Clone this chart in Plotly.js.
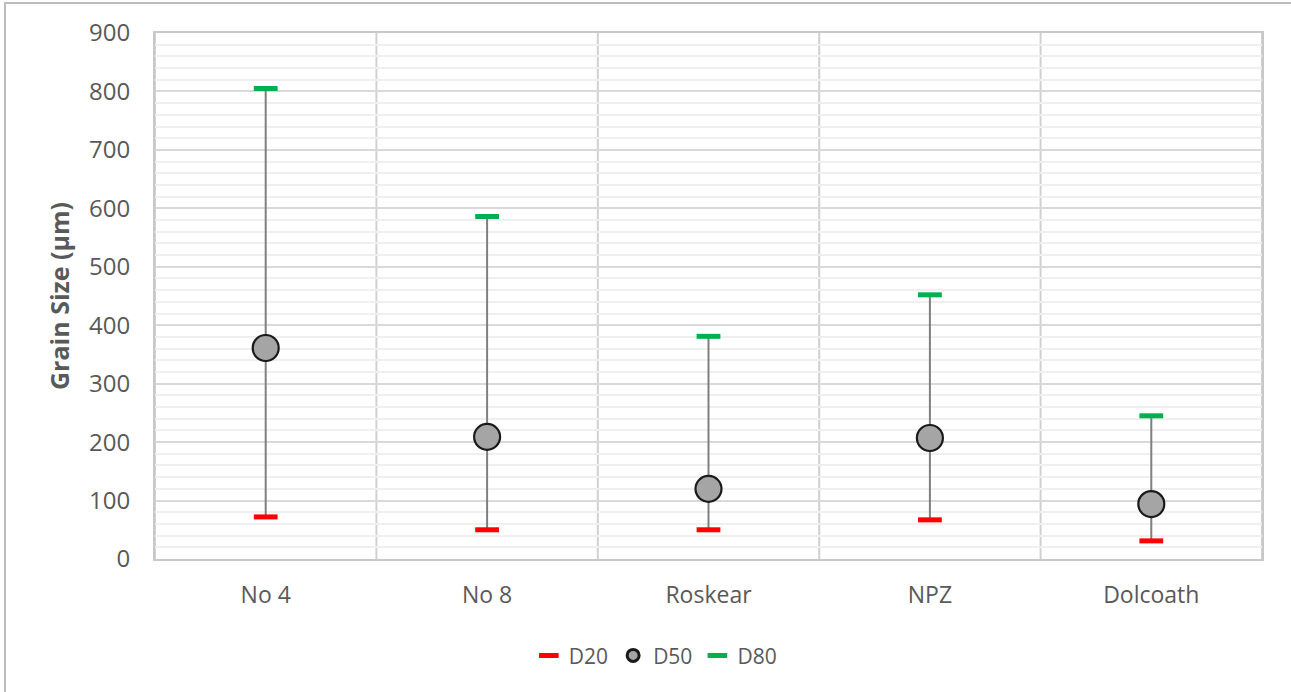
<!DOCTYPE html>
<html>
<head>
<meta charset="utf-8">
<script src="https://cdn.plot.ly/plotly-3.0.1.min.js"></script>
<style>
html,body{margin:0;padding:0;background:#fff;}
#wrap{position:relative;width:1291px;height:692px;}
#chart{position:absolute;left:0;top:0;width:1291px;height:692px;}
#frame{position:absolute;left:4px;top:2px;width:1300px;height:700px;border-left:2px solid #bdbdbd;border-top:2px solid #bdbdbd;pointer-events:none;}
</style>
</head>
<body>
<div id="wrap"><div id="chart"></div><div id="frame"></div></div>
<script>
const categories = ["No 4", "No 8", "Roskear", "NPZ", "Dolcoath"];
const d20 = [72, 50, 50, 67, 31];
const d50 = [361, 209, 120, 207, 94];
const d80 = [805, 586, 381, 452, 245];
const yTickVals = [0, 100, 200, 300, 400, 500, 600, 700, 800, 900];

const idx = categories.map((c, i) => i);
const lineX = [], lineY = [];
idx.forEach(i => { lineX.push(i, i, null); lineY.push(d20[i], d80[i], null); });

const font = "Open Sans, Liberation Sans, sans-serif";
const red = "#ff0000", green = "#00b050";
const traces = [
  {x: lineX, y: lineY, mode: "lines", line: {color: "#7f7f7f", width: 2}, showlegend: false, hoverinfo: "skip"},
  {x: idx, y: d20, name: "D20", mode: "markers", showlegend: false,
   marker: {symbol: "line-ew", size: 17, line: {color: red, width: 5}, color: red}},
  {x: idx, y: d50, name: "D50", mode: "markers", showlegend: false,
   marker: {symbol: "circle", size: 26, color: "#a5a5a5", line: {color: "#1a1a1a", width: 2.2}}},
  {x: idx, y: d80, name: "D80", mode: "markers", showlegend: false,
   marker: {symbol: "line-ew", size: 17, line: {color: green, width: 5}, color: green}},
  // legend entries (no data points)
  {x: [null], y: [null], name: "D20", mode: "markers",
   marker: {symbol: "line-ew", size: 14, line: {color: red, width: 5}, color: red}},
  {x: [null], y: [null], name: "D50", mode: "markers",
   marker: {symbol: "circle", size: 12, color: "#a5a5a5", line: {color: "#1a1a1a", width: 3}}},
  {x: [null], y: [null], name: "D80", mode: "markers",
   marker: {symbol: "line-ew", size: 14, line: {color: green, width: 5}, color: green}}
];

const shapes = [];
for (let k = 0; k <= categories.length; k++) {
  shapes.push({type: "line", xref: "x", yref: "paper", x0: k - 0.5, x1: k - 0.5, y0: 0, y1: 1,
    line: {color: "#d0d0d0", width: 2}, layer: "below"});
}

const layout = {
  width: 1291, height: 692,
  margin: {l: 155, r: 29, t: 33, b: 133},
  paper_bgcolor: "#ffffff", plot_bgcolor: "#ffffff",
  font: {family: font, color: "#595959", size: 20},
  showlegend: true,
  legend: {orientation: "h", x: 0.452, xanchor: "center", y: -0.145, yanchor: "top",
    font: {size: 21, color: "#595959", family: font}, itemwidth: 30, tracegroupgap: 0},
  xaxis: {
    range: [-0.5, categories.length - 0.5],
    tickmode: "array", tickvals: idx, ticktext: categories,
    showgrid: false, zeroline: false, showline: true, linecolor: "#c8c8c8", linewidth: 2, mirror: true,
    ticks: "", ticklabelstandoff: 14, tickfont: {size: 23, color: "#595959"}, fixedrange: true
  },
  yaxis: {
    range: [0, 900],
    tickmode: "array", tickvals: yTickVals, ticktext: yTickVals.map(String),
    showgrid: true, gridcolor: "#d9d9d9", gridwidth: 2,
    minor: {dtick: 20, showgrid: true, gridcolor: "#efefef", gridwidth: 2},
    zeroline: false, showline: true, linecolor: "#c8c8c8", linewidth: 2, mirror: true,
    ticks: "", ticklen: 0, ticklabelstandoff: 18, tickfont: {size: 24, color: "#595959"},
    title: {text: "<b>Grain Size (µm)</b>", font: {size: 25, color: "#595959"}, standoff: 12},
    fixedrange: true
  },
  shapes: shapes
};

Plotly.newPlot("chart", traces, layout, {displayModeBar: false, staticPlot: true});
</script>
</body>
</html>
